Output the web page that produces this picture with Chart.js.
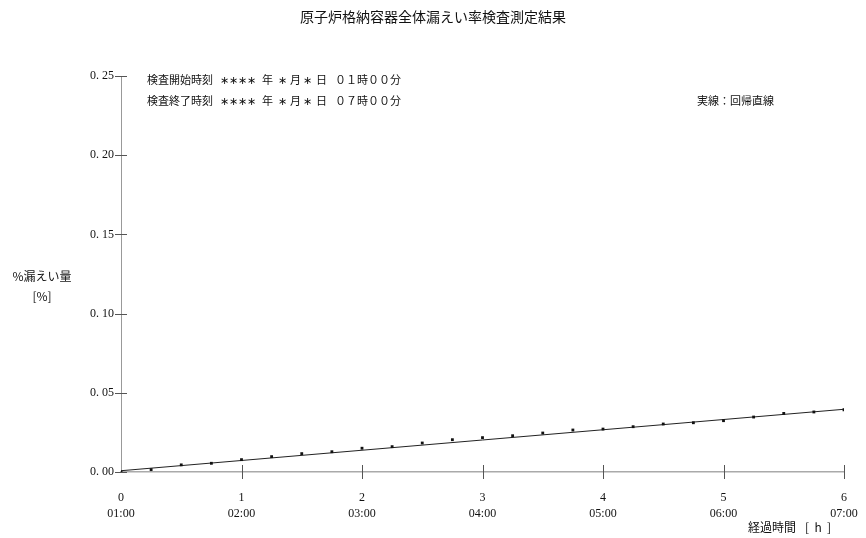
<!DOCTYPE html>
<html lang="ja">
<head>
<meta charset="utf-8">
<script src="https://cdn.jsdelivr.net/npm/chart.js@4.4.1/dist/chart.umd.min.js"></script>
<style>
  html, body { margin: 0; padding: 0; background: #ffffff; }
  #wrap { width: 866px; height: 538px; position: relative; }
</style>
</head>
<body>
<div id="wrap"><canvas id="chartMain" width="866" height="538"></canvas></div>
<script>
const chartCanvas = document.getElementById('chartMain');

// 経過時間 [h] (15分ごと)
const elapsedHours = [
  0, 0.25, 0.5, 0.75, 1, 1.25, 1.5, 1.75, 2, 2.25, 2.5, 2.75, 3,
  3.25, 3.5, 3.75, 4, 4.25, 4.5, 4.75, 5, 5.25, 5.5, 5.75, 6
];

// %漏えい量 [%]
const leakValues = [
  0.0000, 0.0015, 0.0045, 0.0055, 0.0078, 0.0097, 0.0116, 0.0128, 0.0150,
  0.0160, 0.0183, 0.0204, 0.0217, 0.0229, 0.0246, 0.0265, 0.0271,
  0.0286, 0.0303, 0.0311, 0.0324, 0.0347, 0.0370, 0.0379, 0.0393
];

// 回帰直線 (両端)
const regressionHours = [0, 6];
const regressionValues = [0.0008, 0.0396];

const yTicks = [0, 0.05, 0.10, 0.15, 0.20, 0.25];
const xTickLabels = ['01:00', '02:00', '03:00', '04:00', '05:00', '06:00', '07:00'];

const chartTitle = '原子炉格納容器全体漏えい率検査測定結果';
const yTitle = ['%漏えい量', '[%]'];
const xTitle = ['経過時間', '[  h  ]'];
const noteStart = ['検査開始時刻', '∗∗∗∗', '年', '∗', '月', '∗', '日', '０１時００分'];
const noteEnd = ['検査終了時刻', '∗∗∗∗', '年', '∗', '月', '∗', '日', '０７時００分'];
const noteLine = '実線：回帰直線';

const serif = "'Liberation Serif', 'DejaVu Serif', serif";
const jp = "'Noto Sans CJK JP', sans-serif";

const dataLine = {
  datasets: [
    {
      label: '測定値',
      data: elapsedHours.map((h, i) => ({ x: h, y: leakValues[i] })),
      showLine: false,
      pointStyle: 'rect',
      pointRadius: 2,
      backgroundColor: '#111',
      borderColor: '#111',
      borderWidth: 0
    },
    {
      label: '回帰直線',
      data: regressionHours.map((h, i) => ({ x: h, y: regressionValues[i] })),
      showLine: true,
      pointRadius: 0,
      borderColor: '#222',
      borderWidth: 1
    }
  ]
};

// 軸をまたぐ目盛り線
const crossTicks = {
  id: 'crossTicks',
  afterDraw: chart => {
    const ctx = chart.ctx;
    const xs = chart.scales.x;
    const ys = chart.scales.y;
    const x0 = xs.getPixelForValue(0);
    const y0 = ys.getPixelForValue(0);
    ctx.save();
    ctx.strokeStyle = '#555';
    ctx.lineWidth = 1;
    ctx.beginPath();
    for (let h = 1; h <= 6; h++) {
      const px = Math.round(xs.getPixelForValue(h)) + 0.5;
      ctx.moveTo(px, y0 - 7);
      ctx.lineTo(px, y0 + 7);
    }
    yTicks.forEach(v => {
      const py = Math.round(ys.getPixelForValue(v)) + 0.5;
      ctx.moveTo(x0 - 6, py);
      ctx.lineTo(x0 + 6, py);
    });
    ctx.stroke();
    ctx.restore();
  }
};

// 表題・注記
const textLayer = {
  id: 'textLayer',
  afterDraw: chart => {
    const ctx = chart.ctx;
    ctx.save();
    ctx.fillStyle = '#111';
    ctx.textBaseline = 'middle';

    ctx.font = '14px ' + jp;
    ctx.textAlign = 'center';
    ctx.fillText(chartTitle, 433, 17);

    ctx.font = '11px ' + jp;
    ctx.textAlign = 'left';
    const noteX = [147, 220, 262, 278, 290, 303, 316, 335];
    noteStart.forEach((t, i) => ctx.fillText(t, noteX[i], 80));
    noteEnd.forEach((t, i) => ctx.fillText(t, noteX[i], 101));
    ctx.fillText(noteLine, 697, 101);

    ctx.font = '12px ' + jp;
    ctx.textAlign = 'center';
    ctx.fillText(yTitle[0], 42, 276);
    ctx.fillText(yTitle[1], 42, 296);

    ctx.textAlign = 'left';
    ctx.fillText(xTitle[0], 748, 527);
    ctx.fillText(xTitle[1], 805, 527);
    ctx.restore();
  }
};

const configLine = {
  type: 'scatter',
  data: dataLine,
  options: {
    responsive: false,
    animation: false,
    layout: {
      padding: { top: 76, right: 22, bottom: 0, left: 0 }
    },
    scales: {
      x: {
        type: 'linear',
        min: 0,
        max: 6,
        afterFit: scale => {
          scale.height = 66;
          scale.paddingLeft = 0;
          scale.paddingRight = 0;
        },
        grid: { display: false, drawTicks: false },
        border: { color: '#aaa', width: 1.5 },
        ticks: {
          stepSize: 1,
          padding: 18,
          color: '#111',
          maxRotation: 0,
          font: { family: serif, size: 12, lineHeight: 1.35 },
          callback: v => [String(v), xTickLabels[v]]
        }
      },
      y: {
        min: 0,
        max: 0.25,
        afterFit: scale => { scale.width = 121; },
        grid: { display: false, drawTicks: false },
        border: { color: '#999', width: 1 },
        ticks: {
          stepSize: 0.05,
          padding: 7,
          color: '#111',
          font: { family: serif, size: 12 },
          callback: v => v.toFixed(2).replace('.', '. ')
        }
      }
    },
    plugins: {
      legend: { display: false },
      tooltip: { enabled: false }
    }
  },
  plugins: [crossTicks, textLayer]
};

const chartMain = new Chart(chartCanvas, configLine);
</script>
</body>
</html>
